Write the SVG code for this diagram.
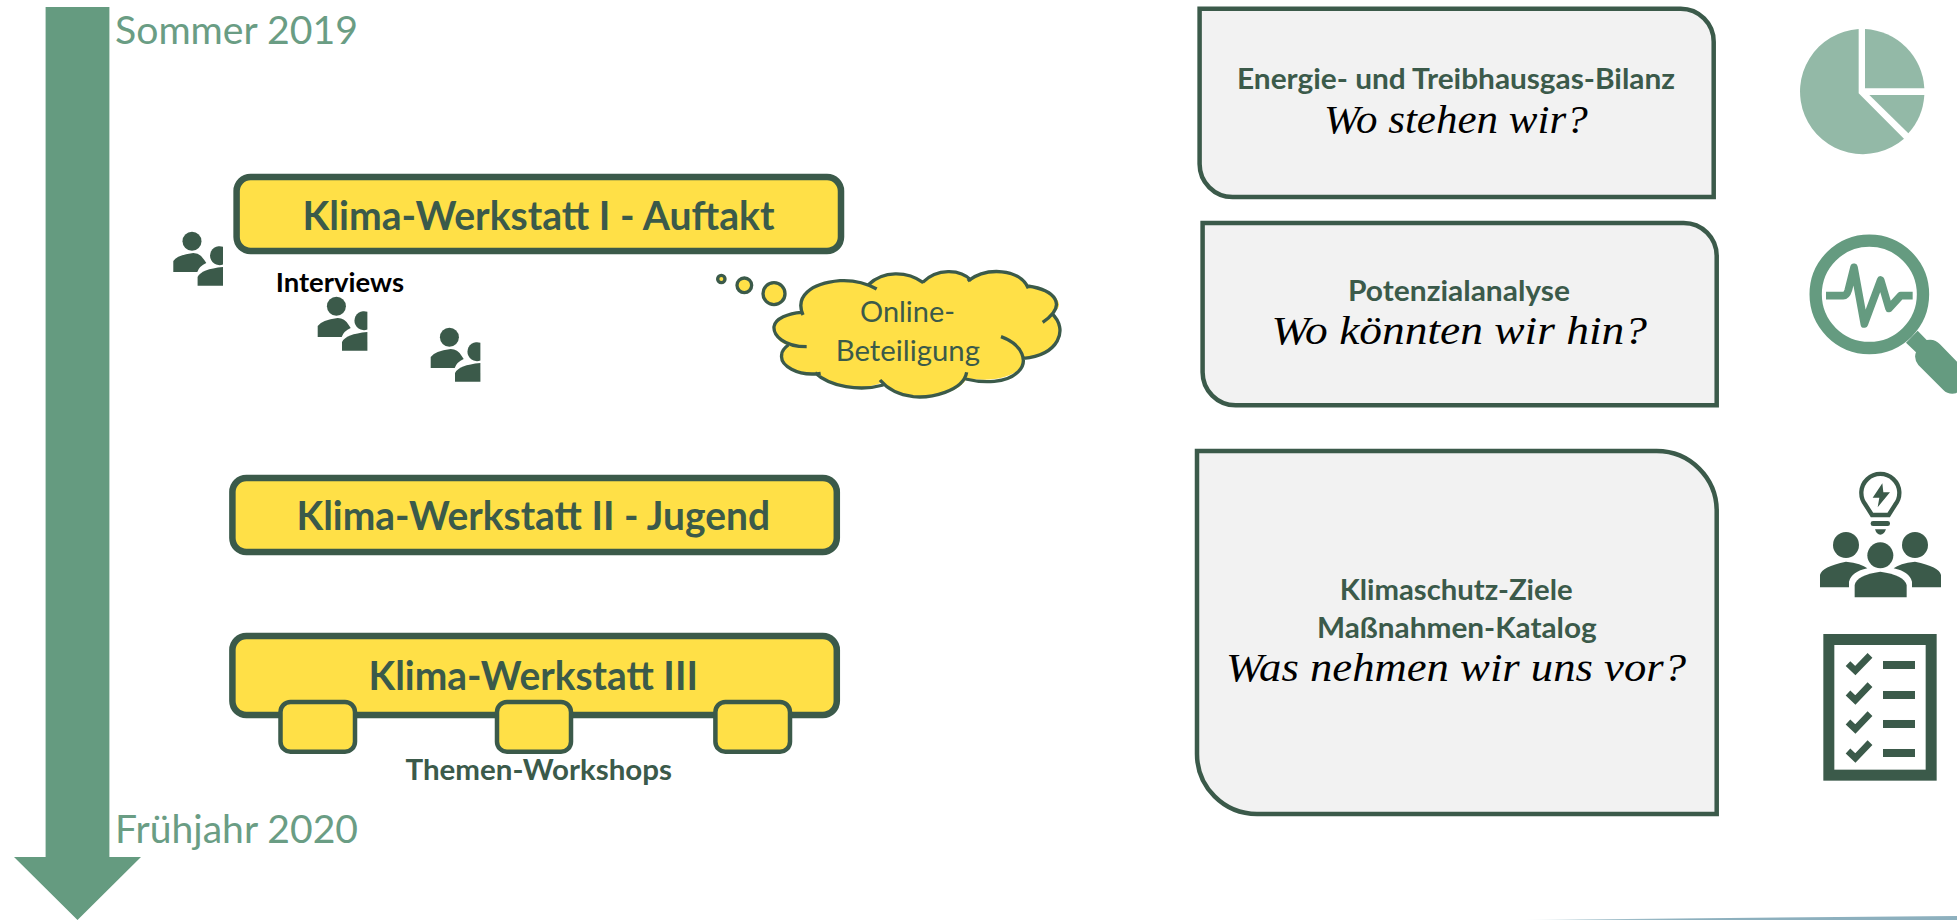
<svg xmlns="http://www.w3.org/2000/svg" width="1957" height="920" viewBox="0 0 1957 920">
<style>
text{font-family:"Lato","Open Sans",sans-serif;fill:#3B5A4A}
.w{font-size:40px;font-weight:700}
.s{font-size:28.500px;font-weight:700}
.t{font-size:38px;fill:#6A9D84;font-weight:400}
.h{font-family:"Liberation Serif",serif;font-style:italic;font-size:40px;fill:#000}
.y{fill:#FFE047;stroke:#3B5A4A;stroke-width:6.500}
.ys{fill:#FFE047;stroke:#3B5A4A;stroke-width:4.500}
.g{fill:#F2F2F2;stroke:#3B5A4A;stroke-width:4.500}
.d{fill:#3B5A4A}
.m{fill:#659B80}
.p{fill:#93B9A7}
</style>
<defs>
<linearGradient id="bar" x1="0" x2="1" y1="0" y2="0"><stop offset="0" stop-color="#fff"/><stop offset=".15" stop-color="#A9C5CF"/><stop offset=".4" stop-color="#8DB0BE"/><stop offset="1" stop-color="#8DB0BE"/></linearGradient>
<g id="person">
<circle class="d" cx="18.7" cy="9.3" r="9.5"/>
<path class="d" d="M0 40V29Q4 23 20 21Q27 21 31 28L33 31Q26 34 24 40Z"/>
<path class="d" d="M49.700 14.800A9.500 9.500 0 1 0 49.700 32.500Z"/>
<path class="d" d="M24.300 53.700V45Q28 37 49.700 35V53.700Z"/>
</g>
</defs>
<rect width="1957" height="920" fill="#fff"/>
<g id="connectors">
<path class="m" d="M45.600 7H109.400V857H141L77.500 920L14 857H45.600Z"/>
</g>
<g id="label-sommer"><text class="t" x="115" y="44" textLength="243" lengthAdjust="spacingAndGlyphs">Sommer 2019</text></g>
<g id="label-fruehjahr"><text class="t" x="115" y="843" textLength="243" lengthAdjust="spacingAndGlyphs">Frühjahr 2020</text></g>

<g id="werkstatt-1">
<rect class="y" x="236.600" y="177" width="604.400" height="74" rx="14"/>
<text class="w" x="302.500" y="229.500" textLength="472" lengthAdjust="spacingAndGlyphs">Klima-Werkstatt I - Auftakt</text>
</g>
<g id="interviews">
<use href="#person" x="173.300" y="232"/>
<use href="#person" x="317.700" y="297"/>
<use href="#person" x="430.700" y="328"/>
<text class="s" style="fill:#000;font-size:26.500px" x="275.700" y="291.500" textLength="128.300" lengthAdjust="spacingAndGlyphs">Interviews</text>
</g>
<g id="online-beteiligung">
<g transform="translate(700 250) scale(.33333)">
<circle class="ys" style="stroke-width:10" cx="64" cy="87" r="11"/>
<circle class="ys" style="stroke-width:10" cx="133" cy="106" r="22"/>
<circle class="ys" style="stroke-width:10" cx="222" cy="131" r="33"/>
<path fill="#FFE047" d="M305 187C285 140 330 100 420 92C450 90 480 95 505 102C550 62 620 62 668 97C710 55 780 55 805 92C860 50 960 55 985 110C1065 120 1105 165 1055 190C1108 240 1075 315 970 325C985 350 920 405 800 385C780 430 690 445 640 440C600 435 565 420 545 398C480 425 390 410 345 372C290 380 240 345 245 315C245 300 255 290 265 285C235 280 220 250 222 230C225 205 265 190 305 187Z"/>
<path fill="none" stroke="#3B5A4A" stroke-width="10" d="M309 195C285 140 330 100 420 92C460 90 500 100 530 117M505 104C550 62 620 62 670 98M668 97C710 55 780 55 815 92M803 93C860 50 960 55 985 115M983 108C1065 120 1105 165 1028 217M1055 190C1108 240 1075 315 970 325M903 260C970 285 985 335 955 365C920 400 850 400 797 387M800 367C790 425 690 445 640 440C600 435 565 420 540 390M550 405C480 425 390 410 345 368M362 370C290 380 240 345 245 315C245 300 255 292 265 285M320 290C250 290 220 255 222 230C225 205 265 190 305 187"/>
</g>
<text style="font-size:29px" x="860" y="322" textLength="95" lengthAdjust="spacingAndGlyphs">Online-</text>
<text style="font-size:29px" x="835.700" y="360.500" textLength="144.300" lengthAdjust="spacingAndGlyphs">Beteiligung</text>
</g>

<g id="werkstatt-2">
<rect class="y" x="232.400" y="478" width="604.400" height="74" rx="14"/>
<text class="w" x="296.500" y="529.500" textLength="473.500" lengthAdjust="spacingAndGlyphs">Klima-Werkstatt II - Jugend</text>
</g>
<g id="werkstatt-3">
<rect class="y" x="232.400" y="636" width="604.400" height="79" rx="14"/>
<text class="w" x="368.500" y="690" textLength="329.500" lengthAdjust="spacingAndGlyphs">Klima-Werkstatt III</text>
</g>
<g id="workshop-1"><rect class="ys" x="280.500" y="702" width="74.500" height="49.700" rx="10"/></g>
<g id="workshop-2"><rect class="ys" x="497" y="702" width="74" height="49.700" rx="10"/></g>
<g id="workshop-3"><rect class="ys" x="715.400" y="702" width="74.600" height="49.700" rx="10"/></g>
<g id="themen-workshops"><text class="s" x="405.500" y="780" textLength="266.500" lengthAdjust="spacingAndGlyphs">Themen-Workshops</text></g>

<g id="box-bilanz">
<path class="g" d="M1199.600 8.700H1680.700A33 33 0 0 1 1713.700 41.700V197H1232.600A33 33 0 0 1 1199.600 164Z"/>
<text class="s" x="1237" y="88.500" textLength="438" lengthAdjust="spacingAndGlyphs">Energie- und Treibhausgas-Bilanz</text>
<text class="h" x="1324" y="132.700" textLength="263.700" lengthAdjust="spacingAndGlyphs">Wo stehen wir?</text>
</g>
<g id="box-potenzial">
<path class="g" d="M1202.600 223H1683.700A33 33 0 0 1 1716.700 256V405.300H1235.600A33 33 0 0 1 1202.600 372.300Z"/>
<text class="s" x="1348" y="300.700" textLength="222" lengthAdjust="spacingAndGlyphs">Potenzialanalyse</text>
<text class="h" x="1271.400" y="344" textLength="375.600" lengthAdjust="spacingAndGlyphs">Wo könnten wir hin?</text>
</g>
<g id="box-ziele">
<path class="g" d="M1197 451H1656.700A60 60 0 0 1 1716.700 511V814H1257A60 60 0 0 1 1197 754Z"/>
<text class="s" x="1339.700" y="600" textLength="232.900" lengthAdjust="spacingAndGlyphs">Klimaschutz-Ziele</text>
<text class="s" x="1317" y="637.500" textLength="279.700" lengthAdjust="spacingAndGlyphs">Maßnahmen-Katalog</text>
<text class="h" x="1226" y="681" textLength="460" lengthAdjust="spacingAndGlyphs">Was nehmen wir uns vor?</text>
</g>

<g id="icon-pie" transform="translate(1780 10) scale(.33333)">
<path class="p" d="M236 57V250L372 386A188 188 0 1 1 236 57Z"/>
<path class="p" d="M255 57A188 188 0 0 1 433 235H255Z"/>
<path class="p" d="M268 255H433A188 188 0 0 1 385 370Z"/>
</g>
<g id="icon-lens" transform="translate(1780 10) scale(.33333)">
<circle cx="268" cy="853" r="161" fill="none" stroke="#659B80" stroke-width="37"/>
<path fill="none" stroke="#659B80" stroke-width="23" stroke-linejoin="round" d="M138 857H190Q200 857 205 840L222 772L253 942L302 810L327 895L362 857H398"/>
<path class="m" d="M378 998L413 962L440 990Q465 985 480 1003L560 1085V1120L528 1150Q505 1155 490 1140L415 1065Q400 1045 408 1027Z"/>
</g>
<g id="icon-idea" transform="translate(1780 460) scale(.33333)">
<path fill="none" stroke="#3B5A4A" stroke-width="13" d="M276 165H326L345 135A57 57 0 1 0 257 135Z"/>
<path class="d" d="M307 70L278 113H298L293 142L330 97H310Z"/>
<rect class="d" x="272" y="183" width="58" height="15" rx="7"/>
<path class="d" d="M285 208H318Q312 224 301 224Q290 224 285 208Z"/>
<circle class="d" cx="198" cy="255" r="39"/>
<circle class="d" cx="405" cy="255" r="39"/>
<circle class="d" cx="301" cy="286" r="39"/>
<path class="d" d="M120 382V345Q125 320 198 305Q245 310 262 325Q215 335 207 365V382Z"/>
<path class="d" d="M483 382V345Q478 320 405 305Q358 310 341 325Q388 335 396 365V382Z"/>
<path class="d" d="M224 412V375Q230 345 301 335Q372 345 380 375V412Z"/>
</g>
<g id="icon-checklist" transform="translate(1780 460) scale(.33333)">
<rect x="146.500" y="538.500" width="307" height="407" fill="#fff" stroke="#3B5A4A" stroke-width="33"/>
<g fill="none" stroke="#3B5A4A" stroke-width="20">
<path d="M204 611L226 632L270 586"/><path d="M204 699L226 720L270 674"/><path d="M204 786L226 807L270 761"/><path d="M204 873L226 894L270 848"/>
</g>
<g class="d"><rect x="309" y="603" width="96" height="24"/><rect x="309" y="693" width="96" height="24"/><rect x="309" y="780" width="96" height="24"/><rect x="309" y="867" width="96" height="24"/></g>
</g>
<path id="footer-bar" d="M1513 920L1957 916V920Z" fill="url(#bar)"/>
</svg>
